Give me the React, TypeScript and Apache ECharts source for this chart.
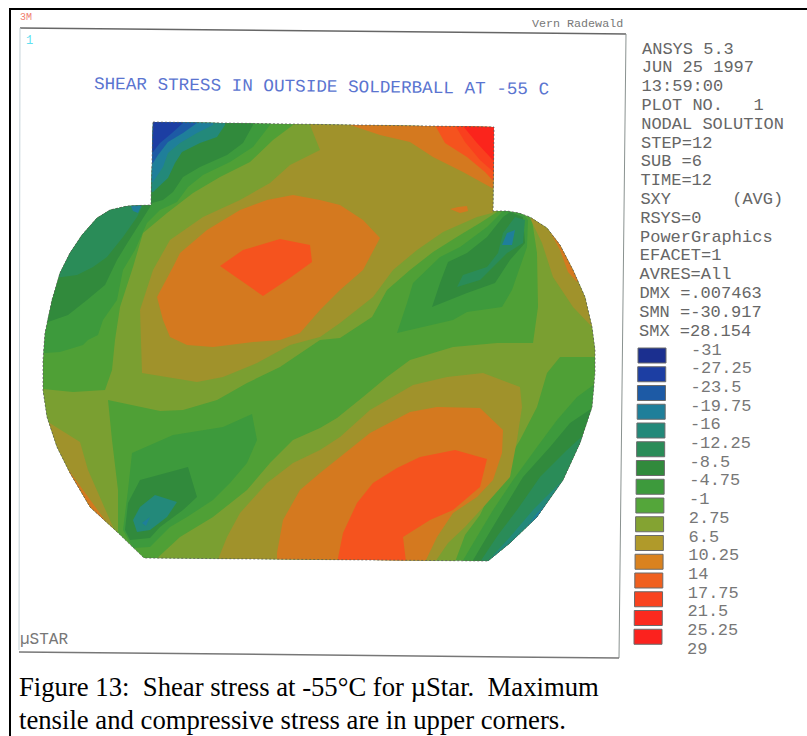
import React, { useEffect, useRef } from "react";
import * as echarts from "echarts";

type P = [number, number];

const BLUE2 = "#1c3ea3", BLUE3 = "#1d5aa5", TEAL2 = "#1f7f9a", TEAL = "#23897a", TG = "#2a8c58",
  DG = "#318a3c", G = "#3d9a3c", L1 = "#4fa036", L2 = "#7a9f31", OL = "#a0922b", OR = "#d4791f",
  R1 = "#f5531e", R2 = "#f93f1e", R3 = "#fb241c";

const outline: P[] = [[153,122],[494,127],[493,211],[507,211],[519,213],[530,217],[547,228],[560,245],[573,270],[585,297],[592,327],[595,350],[595,373],[592,407],[580,443],[563,480],[537,517],[510,543],[488,561],[144,558],[115,530],[90,507],[70,473],[57,447],[47,417],[43,390],[43,360],[45,333],[52,300],[60,273],[70,253],[82,235],[97,218],[110,210],[127,206],[151,205]];

const upperL2: P[] = [[293,120],[293,125],[273,140],[250,162],[220,177],[193,193],[167,213],[143,233],[133,267],[120,307],[115,340],[112,370],[105,390],[73,392],[43,389],[30,389],[30,535],[118,535],[118,490],[112,440],[108,400],[160,411],[183,410],[217,400],[247,383],[280,367],[320,340],[340,338],[372,317],[387,290],[410,270],[433,252],[460,235],[480,223],[497,212],[500,120]];
const lowerL2: P[] = [[153,562],[180,537],[213,517],[247,490],[270,463],[293,440],[320,428],[337,418],[363,397],[387,377],[410,360],[453,347],[497,343],[533,343],[538,307],[537,253],[532,220],[528,212],[600,212],[600,357],[560,357],[547,373],[537,407],[520,440],[500,473],[480,515],[465,535],[455,562]];
const stubL2: P[] = [[495,196],[489,205],[488,213],[495,213]];
const upperOL: P[] = [[310,120],[310,125],[320,150],[300,160],[290,165],[270,183],[240,200],[203,217],[170,240],[153,270],[140,310],[142,373],[197,382],[223,377],[257,363],[290,345],[320,337],[340,323],[373,297],[393,270],[417,250],[443,232],[477,217],[492,213],[500,200],[500,120]];
const lowerOL: P[] = [[217,562],[227,537],[240,513],[267,483],[293,463],[320,450],[340,437],[370,410],[413,385],[447,377],[483,373],[520,387],[522,407],[517,440],[510,477],[487,503],[465,527],[448,543],[435,562]];
const rightOL: P[] = [[530,218],[542,243],[553,277],[573,307],[595,330],[600,215]];
const leftOL: P[] = [[30,418],[48,422],[80,442],[88,470],[113,527],[118,536],[30,536]];
const centerOR: P[] = [[180,253],[207,230],[240,210],[267,200],[293,195],[320,200],[340,205],[363,220],[380,238],[363,270],[340,290],[320,310],[300,333],[280,340],[253,342],[213,347],[187,345],[170,337],[163,320],[157,297],[173,267]];
const lowerOR: P[] = [[277,562],[277,553],[283,520],[300,490],[320,473],[340,457],[370,433],[410,412],[437,407],[480,408],[503,430],[502,453],[493,480],[477,497],[453,513],[437,537],[425,562]];
const cornerOR: P[] = [[350,120],[350,125],[380,135],[410,142],[433,157],[463,172],[492,188],[497,190],[497,120]];
const spotOR: P[] = [[450,209],[458,207],[467,206],[468,211],[460,213]];
const rightOR: P[] = [[548,228],[560,250],[568,272],[577,282],[590,250]];
const leftOR: P[] = [[65,465],[83,490],[107,523],[115,533],[60,533]];
const centerR: P[] = [[220,266],[243,250],[280,239],[310,245],[312,262],[287,280],[263,296]];
const lowerR: P[] = [[338,562],[338,558],[343,533],[357,503],[373,483],[397,468],[420,457],[455,450],[487,459],[480,487],[453,510],[430,520],[403,537],[406,562]];
const cornerR1: P[] = [[435,120],[435,125],[445,143],[467,157],[485,172],[497,185],[497,120]];
const cornerR2: P[] = [[452,120],[465,142],[480,160],[497,175],[497,120]];
const cornerR3: P[] = [[458,120],[477,143],[490,157],[497,165],[497,120]];

const upperG: P[] = [[270,120],[270,125],[253,147],[230,162],[203,175],[188,187],[177,202],[160,210],[147,223],[135,250],[123,270],[117,300],[103,320],[98,335],[88,340],[83,345],[60,352],[45,353],[30,353],[30,120]];
const upperDG: P[] = [[253,120],[253,125],[243,143],[227,155],[200,167],[183,177],[173,192],[163,200],[152,203],[150,207],[140,223],[128,242],[117,260],[105,285],[87,300],[68,315],[48,322],[30,322],[30,120]];
const stubTG: P[] = [[225,120],[225,125],[217,137],[200,143],[182,152],[175,163],[168,178],[153,192],[140,192],[140,120]];
const stubTeal: P[] = [[213,120],[213,125],[197,133],[180,143],[168,153],[163,167],[153,182],[140,182],[140,120]];
const stubBlue3: P[] = [[197,120],[197,123],[183,133],[168,142],[158,155],[153,163],[140,163],[140,120]];
const stubBlue2: P[] = [[183,120],[183,123],[172,133],[160,143],[153,152],[140,152],[140,120]];
const shoulderTG: P[] = [[142,207],[137,217],[123,237],[107,257],[93,267],[77,275],[62,277],[40,280],[40,200],[142,200]];
const shoulderTeal: P[] = [[130,204],[142,204],[138,213],[133,211]];

const rightG: P[] = [[397,333],[407,303],[413,283],[440,257],[460,247],[487,227],[502,212],[515,205],[528,220],[527,247],[512,290],[502,307],[467,312],[453,320]];
const rightDG: P[] = [[432,307],[440,283],[448,262],[467,253],[487,237],[503,217],[510,212],[523,217],[525,243],[510,260],[495,283],[467,293]];
const rightTG: P[] = [[457,287],[463,275],[487,267],[498,253],[503,233],[515,217],[525,220],[523,243],[507,253],[493,267],[480,280]];
const rightTeal: P[] = [[502,245],[507,233],[515,230],[512,245]];

const lowerLeftG: P[] = [[132,453],[173,435],[223,427],[252,414],[257,440],[247,463],[230,483],[213,500],[187,517],[170,527],[150,547],[133,548],[123,530],[128,490]];
const lowerLeftDG: P[] = [[140,480],[188,467],[197,497],[183,510],[160,527],[150,538],[130,540],[125,530],[128,503]];
const lowerLeftTG: P[] = [[155,495],[177,502],[167,517],[150,530],[137,532],[133,520],[140,507]];
const lowerLeftTeal: P[] = [[142,523],[150,517],[146,526]];

const edgeG: P[] = [[600,380],[577,397],[557,420],[537,447],[513,480],[493,510],[475,540],[462,562],[600,562]];
const edgeDG: P[] = [[600,403],[570,423],[550,447],[523,477],[503,510],[485,540],[472,562],[600,562]];
const edgeTG: P[] = [[600,420],[567,450],[540,477],[517,510],[498,535],[480,562],[600,562]];
const edgeTeal: P[] = [[600,445],[563,480],[550,493],[533,510],[510,537],[487,562],[600,562]];
const edgeTeal2: P[] = [[600,465],[560,490],[537,513],[517,540],[493,562],[600,562]];

const bands: { pts: P[]; color: string }[] = [
  { pts: upperL2, color: L2 }, { pts: lowerL2, color: L2 }, { pts: stubL2, color: L2 },
  { pts: upperOL, color: OL }, { pts: lowerOL, color: OL }, { pts: rightOL, color: OL }, { pts: leftOL, color: OL },
  { pts: centerOR, color: OR }, { pts: lowerOR, color: OR }, { pts: cornerOR, color: OR },
  { pts: spotOR, color: OR }, { pts: rightOR, color: OR }, { pts: leftOR, color: OR },
  { pts: centerR, color: R1 }, { pts: lowerR, color: R1 }, { pts: cornerR1, color: R1 },
  { pts: cornerR2, color: R2 }, { pts: cornerR3, color: R3 },
  { pts: upperG, color: G }, { pts: upperDG, color: DG }, { pts: shoulderTG, color: TG }, { pts: shoulderTeal, color: TEAL2 },
  { pts: stubTG, color: TEAL }, { pts: stubTeal, color: TEAL2 }, { pts: stubBlue3, color: BLUE3 }, { pts: stubBlue2, color: BLUE2 },
  { pts: rightG, color: G }, { pts: rightDG, color: DG }, { pts: rightTG, color: TG }, { pts: rightTeal, color: TEAL2 },
  { pts: lowerLeftG, color: G }, { pts: lowerLeftDG, color: DG }, { pts: lowerLeftTG, color: TEAL }, { pts: lowerLeftTeal, color: TEAL2 },
  { pts: edgeG, color: G }, { pts: edgeDG, color: DG }, { pts: edgeTG, color: TG }, { pts: edgeTeal, color: TEAL }, { pts: edgeTeal2, color: TEAL2 },
];

const legendColors = ["#1b2f8f", "#1c3ea3", "#1d5aa5", "#1f7f9a", "#23897a", "#2a8c58", "#318a3c", "#3d9a3c", "#54a63a", "#84a332", "#b09a2a", "#d9821f", "#f0601f", "#f9431f", "#fb2a1e", "#fb221e"];
const legendLabels = ["-31", "-27.25", "-23.5", "-19.75", "-16", "-12.25", "-8.5", "-4.75", "-1", "2.75", "6.5", "10.25", "14", "17.75", "21.5", "25.25", "29"];
const infoLines = ["ANSYS 5.3", "JUN 25 1997", "13:59:00", "PLOT NO.   1", "NODAL SOLUTION", "STEP=12", "SUB =6", "TIME=12", "SXY      (AVG)", "RSYS=0", "PowerGraphics", "EFACET=1", "AVRES=All", "DMX =.007463", "SMN =-30.917", "SMX =28.154"];
const titleText = "SHEAR STRESS IN OUTSIDE SOLDERBALL AT -55 C";
const captionLines = ["Figure 13:\u00A0 Shear stress at -55°C for µStar.\u00A0 Maximum", "tensile and compressive stress are in upper corners."];

const MONO = "'Liberation Mono', monospace";

export default function App() {
  const ref = useRef<HTMLDivElement>(null);
  useEffect(() => {
    const chart = echarts.init(ref.current!, null, { renderer: "svg" });
    const poly = (api: any, pts: P[]) => pts.map((p) => api.coord(p));
    const line = (a: P, b: P, stroke: string, lineWidth: number) => ({
      type: "line", shape: { x1: a[0], y1: a[1], x2: b[0], y2: b[1] }, style: { stroke, lineWidth },
    });
    const text = (x: number, y: number, t: string, font: string, size: number, fill: string, extra: any = {}) => ({
      type: "text", x, y, rotation: extra.rotation ?? 0, z: 10,
      style: { text: t, fontFamily: font, fontSize: size, fill, textVerticalAlign: "middle", verticalAlign: "middle", opacity: extra.opacity ?? 1 },
    });
    chart.setOption({
      animation: false,
      backgroundColor: "#ffffff",
      grid: { left: 0, right: 0, top: 0, bottom: 0 },
      xAxis: { type: "value", min: 0, max: 807, show: false },
      yAxis: { type: "value", min: 0, max: 736, inverse: true, show: false },
      graphic: [
        line([10, 9], [807, 9], "#000000", 2),
        line([10, 8], [10, 736], "#000000", 2),
        line([20, 28], [626, 34], "#666666", 1.5),
        line([20, 28], [19, 650], "#c4d2d8", 1),
        line([626, 34], [619, 658], "#8a9290", 1),
        line([19, 652], [619, 658], "#777777", 1.5),
        text(20, 17, "3M", MONO, 10, "#f08070"),
        text(532, 24, "Vern Radewald", MONO, 11.7, "#777777"),
        text(26, 41, "1", MONO, 12, "#60e0f0"),
        text(94, 84, titleText, MONO, 17.65, "#5a74d0", { rotation: -0.012 }),
        text(20, 640, "µSTAR", MONO, 16, "#777777"),
        ...infoLines.map((l, i) => text(642 - (i * 3) / 15, 49 + i * 18.8, l, MONO, 17, "#666666")),
        ...legendLabels.map((l, i) => text(691 - (i * 4) / 16, 350 + i * 18.7, l, MONO, 17, "#777777")),
        ...captionLines.map((l, i) => text(19, 687 + i * 33, l, "'Liberation Serif', serif", 26.7, "#000000")),
      ],
      series: [
        {
          type: "custom", coordinateSystem: "cartesian2d", silent: true, clip: false,
          data: [0],
          renderItem: (_: any, api: any) => ({
            type: "polygon", shape: { points: poly(api, outline) }, style: { fill: L1 },
          }),
        },
        {
          type: "custom", coordinateSystem: "cartesian2d", silent: true, clip: false,
          data: bands.map((_, i) => i),
          renderItem: (params: any, api: any) => ({
            type: "polygon",
            clipPath: { type: "polygon", shape: { points: poly(api, outline) } },
            shape: { points: poly(api, bands[params.dataIndex].pts) },
            style: { fill: bands[params.dataIndex].color },
          }),
        },
        {
          type: "custom", coordinateSystem: "cartesian2d", silent: true, clip: false,
          data: [0],
          renderItem: (_: any, api: any) => ({
            type: "polygon", shape: { points: poly(api, outline) },
            style: { fill: "none", stroke: "#5a5a5a", lineWidth: 1, lineDash: [2, 2], opacity: 0.75 },
          }),
        },
        {
          type: "custom", coordinateSystem: "cartesian2d", silent: true, clip: false,
          data: legendColors.map((_, i) => i),
          renderItem: (params: any, api: any) => {
            const i = params.dataIndex;
            const [x, y] = api.coord([638 - (i * 4) / 15, 348 + i * 18.75]);
            return {
              type: "rect", shape: { x, y, width: 28, height: 15 },
              style: { fill: legendColors[i], stroke: "#6a6a6a", lineWidth: 1 },
            };
          },
        },
      ],
    });
    return () => chart.dispose();
  }, []);
  return <div ref={ref} style={{ position: "fixed", left: 0, top: 0, width: 807, height: 736 }} />;
}
